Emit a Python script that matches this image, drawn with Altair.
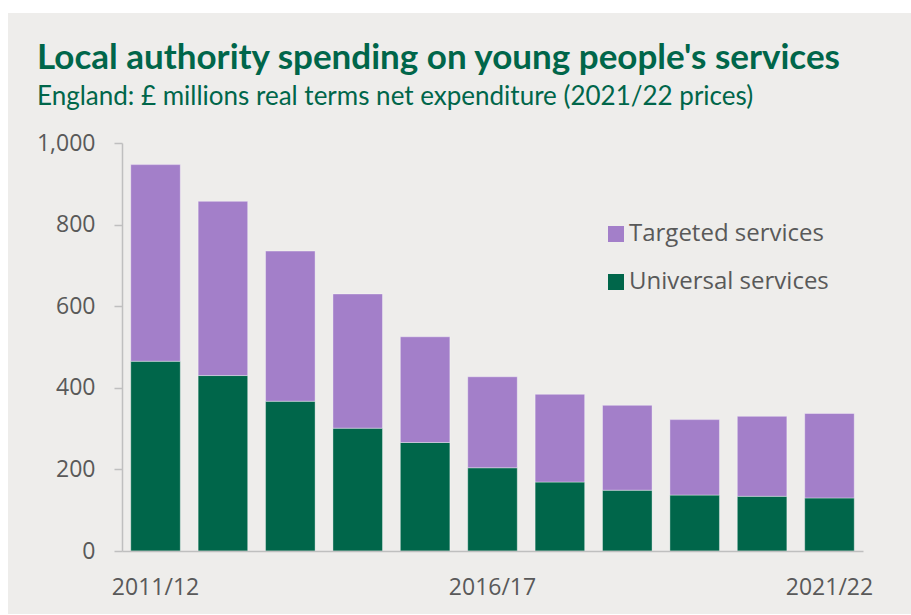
import altair as alt
import pandas as pd

years = ["2011/12", "2012/13", "2013/14", "2014/15", "2015/16", "2016/17",
         "2017/18", "2018/19", "2019/20", "2020/21", "2021/22"]
universal = [465, 430, 367, 301, 266, 204, 169, 149, 137, 134, 130]
targeted = [482, 427, 368, 329, 259, 223, 215, 208, 185, 196, 207]
series = ["Targeted services", "Universal services"]
colors = ["#A37FC9", "#00664A"]
tick_years = ["2011/12", "2016/17", "2021/22"]

rows = []
for y, u, t in zip(years, universal, targeted):
    rows.append({"year": y, "service": "Universal services", "value": u, "order": 0})
    rows.append({"year": y, "service": "Targeted services", "value": t, "order": 1})
df = pd.DataFrame(rows)

bg = alt.Chart(pd.DataFrame({"a": [0]})).mark_rect(color="#EEEDEB").encode(
    x=alt.value(-114), x2=alt.value(789), y=alt.value(-130), y2=alt.value(472)
)

bars = alt.Chart(df).mark_bar(stroke="#ffffff", strokeWidth=0.6, strokeOpacity=0.6).encode(
    x=alt.X("year:N", sort=years,
            scale=alt.Scale(paddingInner=0.265, paddingOuter=0.13),
            axis=alt.Axis(title=None, values=tick_years, ticks=False, labelAngle=0,
                          labelPadding=25, domainColor="#BFBFBF", domainWidth=1.5,
                          zindex=1)),
    y=alt.Y("value:Q", stack="zero",
            scale=alt.Scale(domain=[0, 1000]),
            axis=alt.Axis(title=None, values=[0, 200, 400, 600, 800, 1000], format=",.0f",
                          grid=False, tickSize=8, tickColor="#BFBFBF", tickWidth=1.5,
                          domainColor="#BFBFBF", domainWidth=1.5, labelPadding=19,
                          zindex=1)),
    color=alt.Color("service:N", scale=alt.Scale(domain=series, range=colors),
                    legend=alt.Legend(title=None, orient="none", legendX=482, legendY=79,
                                      symbolType="square", symbolSize=256,
                                      symbolStrokeWidth=0, labelFontSize=24,
                                      labelOffset=1, rowPadding=24, labelLimit=0,
                                      labelColor="#595959", labelFont="Open Sans",
                                      zindex=1)),
    order=alt.Order("order:Q"),
)

chart = alt.layer(bg, bars).properties(
    width=741, height=408,
    padding={"left": 122, "top": 143, "right": 48, "bottom": 63},
    autosize=alt.AutoSizeParams(type="none"),
    background="#ffffff",
    title=alt.TitleParams(
        text="Local authority spending on young people's services",
        subtitle="England: £ millions real terms net expenditure (2021/22 prices)",
        anchor="start", frame="group", dx=-85, offset=-97, zindex=1,
        font="Lato", fontSize=35, fontWeight="bold", color="#00664A",
        subtitleFont="Lato", subtitleFontSize=26, subtitleColor="#00664A",
        subtitlePadding=8,
    ),
).configure_axis(
    labelFont="Open Sans", labelFontSize=23, labelColor="#595959"
).configure_view(stroke=None)

chart.save("out.html", embed_options={"renderer": "svg", "actions": False})
